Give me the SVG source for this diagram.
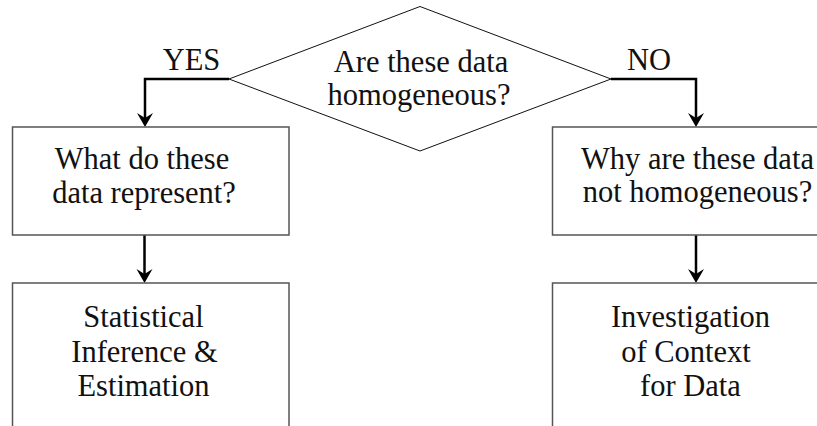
<svg xmlns="http://www.w3.org/2000/svg" width="817" height="426" viewBox="0 0 817 426">
<style>
  .box { fill: #fff; stroke: #555; stroke-width: 1.5; }
  .dia { fill: #fff; stroke: #111; stroke-width: 1; }
  .t { font-family: "Liberation Serif", "Times New Roman", serif; font-size: 30.5px; fill: #111; text-anchor: middle; }
  .conn { fill: none; stroke: #000; stroke-width: 2.5; marker-end: url(#arr); }
</style>
<defs>
  <marker id="arr" markerUnits="userSpaceOnUse" markerWidth="20" markerHeight="20" viewBox="-1 -10 18 20" refX="5" refY="0" orient="auto">
    <path d="M0,-8 L14,0 L0,8 L5,0 Z" fill="#000"/>
  </marker>
</defs>
<rect width="817" height="426" fill="#fff"/>

<g id="connectors">
  <path class="conn" d="M229,79 H145 V118"/>
  <path class="conn" d="M611,79 H696 V118"/>
  <path class="conn" d="M144.5,235 V274"/>
  <path class="conn" d="M696,235 V274"/>
  <text class="t" x="191.5" y="69.5">YES</text>
  <text class="t" x="649" y="69.5">NO</text>
</g>

<g id="decision">
  <polygon class="dia" points="420,6.5 611,79 420,151 229,79"/>
  <text class="t" x="421" y="71.5">Are these data</text>
  <text class="t" x="419" y="105">homogeneous?</text>
</g>

<g id="what">
  <rect class="box" x="12.5" y="127" width="276.5" height="108"/>
  <text class="t" x="142" y="169">What do these</text>
  <text class="t" x="144" y="202.5">data represent?</text>
</g>

<g id="why">
  <rect class="box" x="552.5" y="127" width="280" height="108"/>
  <text class="t" x="697.5" y="168.5">Why are these data</text>
  <text class="t" x="697.5" y="202">not homogeneous?</text>
</g>

<g id="inference">
  <rect class="box" x="12.5" y="283" width="276.5" height="160"/>
  <text class="t" x="143.5" y="327">Statistical</text>
  <text class="t" x="144.5" y="361.5">Inference &amp;</text>
  <text class="t" x="143.5" y="396">Estimation</text>
</g>

<g id="investigation">
  <rect class="box" x="552.5" y="283" width="280" height="160"/>
  <text class="t" x="690.5" y="327">Investigation</text>
  <text class="t" x="686" y="361.5">of Context</text>
  <text class="t" x="690.5" y="396">for Data</text>
</g>
</svg>
